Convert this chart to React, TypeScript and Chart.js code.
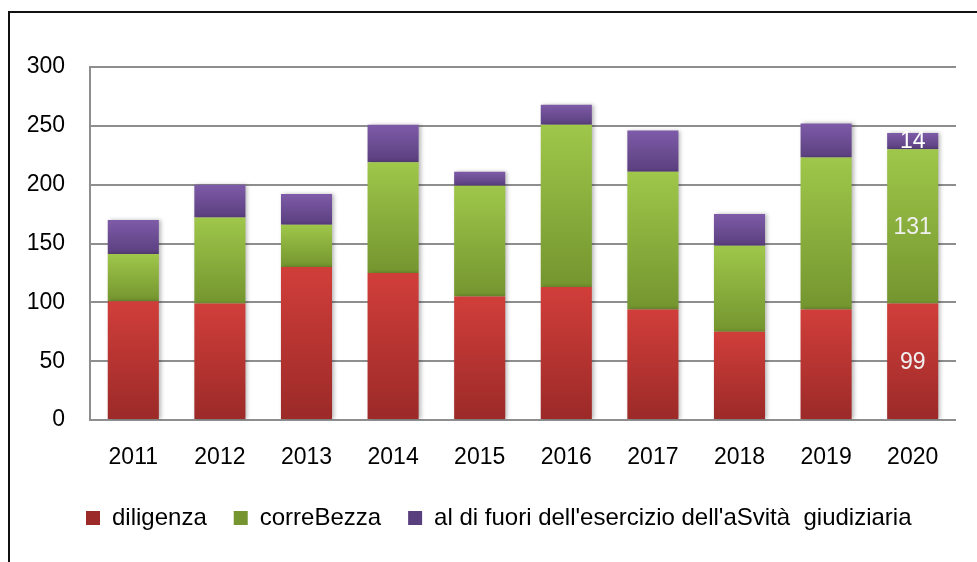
import React, { useEffect, useRef } from "react";
import { Chart, registerables } from "chart.js";

Chart.register(...registerables);

const years = ["2011", "2012", "2013", "2014", "2015", "2016", "2017", "2018", "2019", "2020"];
const diligenza = [101, 99, 130, 125, 105, 113, 94, 75, 94, 99];
const correttezza = [40, 73, 36, 94, 94, 138, 117, 73, 129, 131];
const fuori = [29, 28, 26, 32, 12, 17, 35, 27, 29, 14];
const seriesNames = ["diligenza", "correBezza", "al di fuori dell'esercizio dell'aSvità  giudiziaria"];
const labeledYears = ["2020"];
const yTicks = { min: 0, max: 300, step: 50 };

const FONT = '"Liberation Sans", Arial, sans-serif';

function makeBg(top: string, bottom: string, mid: string) {
  return (ctx: any) => {
    const chart = ctx.chart;
    const y = chart.scales && chart.scales.y;
    if (!y || ctx.type !== "data") return mid;
    const i = ctx.dataIndex;
    const d = ctx.datasetIndex;
    let start = 0;
    for (let k = 0; k < d; k++) start += Number(chart.data.datasets[k].data[i]) || 0;
    const end = start + (Number(chart.data.datasets[d].data[i]) || 0);
    const y0 = y.getPixelForValue(end);
    const y1 = y.getPixelForValue(start);
    if (!isFinite(y0) || !isFinite(y1) || y0 === y1) return mid;
    const g = chart.ctx.createLinearGradient(0, y0, 0, y1);
    g.addColorStop(0, top);
    g.addColorStop(1, bottom);
    return g;
  };
}

const segPlugin = {
  id: "segPlugin",
  afterLayout(chart: any) {
    if (chart.legend) chart.legend.left = 59;
  },
  beforeDatasetsDraw(chart: any) {
    const c = chart.ctx;
    c.save();
    c.shadowColor = "rgba(0,0,0,0.28)";
    c.shadowBlur = 4;
    c.shadowOffsetX = 2;
    c.shadowOffsetY = 0;
  },
  afterDatasetsDraw(chart: any) {
    const c = chart.ctx;
    c.restore();
    c.save();
    c.font = `23px ${FONT}`;
    c.textAlign = "center";
    c.textBaseline = "middle";
    chart.data.datasets.forEach((ds: any, di: number) => {
      const meta = chart.getDatasetMeta(di);
      labeledYears.forEach((yr) => {
        const i = chart.data.labels.indexOf(yr);
        if (i < 0) return;
        const el = meta.data[i];
        if (!el) return;
        const p = el.getProps(["x", "y", "base"], true);
        c.fillStyle = di === 2 ? "#ffffff" : "#f0f0f0";
        c.fillText(String(ds.data[i]), p.x, (p.y + p.base) / 2 + 1);
      });
    });
    c.restore();
  },
};

export default function App() {
  const ref = useRef<HTMLCanvasElement | null>(null);
  useEffect(() => {
    if (!ref.current) return;
    const chart = new Chart(ref.current, {
      type: "bar",
      data: {
        labels: years,
        datasets: [
          {
            label: seriesNames[0],
            data: diligenza,
            backgroundColor: makeBg("#d13e3a", "#9b2a28", "#bb3532"),
            borderWidth: 0,
          },
          {
            label: seriesNames[1],
            data: correttezza,
            backgroundColor: makeBg("#9fc74a", "#74952f", "#8ab13f"),
            borderWidth: 0,
          },
          {
            label: seriesNames[2],
            data: fuori,
            backgroundColor: makeBg("#7e5ba8", "#5a3f7e", "#6d4f95"),
            borderWidth: 0,
          },
        ],
      },
      options: {
        animation: false,
        responsive: false,
        devicePixelRatio: 1,
        layout: { padding: { left: 0, right: 21, top: 67, bottom: 22 } },
        datasets: { bar: { categoryPercentage: 1, barPercentage: 0.59 } },
        plugins: {
          legend: {
            position: "bottom",
            align: "start",
            labels: {
              boxWidth: 14,
              boxHeight: 14,
              padding: 27,
              color: "#000",
              font: { family: FONT, size: 24 },
            },
          },
          tooltip: { enabled: false },
          title: { display: false },
        },
        scales: {
          x: {
            stacked: true,
            grid: { display: false, drawTicks: false },
            border: { display: false },
            ticks: { padding: 24, color: "#000", font: { family: FONT, size: 23 } },
            afterFit: (s: any) => {
              s.height = 59;
            },
          },
          y: {
            stacked: true,
            min: yTicks.min,
            max: yTicks.max,
            ticks: { stepSize: yTicks.step, padding: 25, color: "#000", font: { family: FONT, size: 23 } },
            grid: { color: "#8e8e8e", lineWidth: 2, drawTicks: false },
            border: { display: true, color: "#8e8e8e", width: 2 },
            afterFit: (s: any) => {
              s.width = 90;
            },
          },
        },
      },
      plugins: [segPlugin],
    });
    return () => chart.destroy();
  }, []);

  return (
    <div style={{ position: "fixed", left: 0, top: 0, width: 977, height: 562, overflow: "hidden", background: "#fff" }}>
      <div
        style={{
          position: "absolute",
          left: 8,
          top: 11,
          width: 1100,
          height: 700,
          border: "2px solid #111",
          boxSizing: "border-box",
        }}
      />
      <canvas ref={ref} width={977} height={562} style={{ position: "absolute", left: 0, top: 0, width: 977, height: 562 }} />
    </div>
  );
}
